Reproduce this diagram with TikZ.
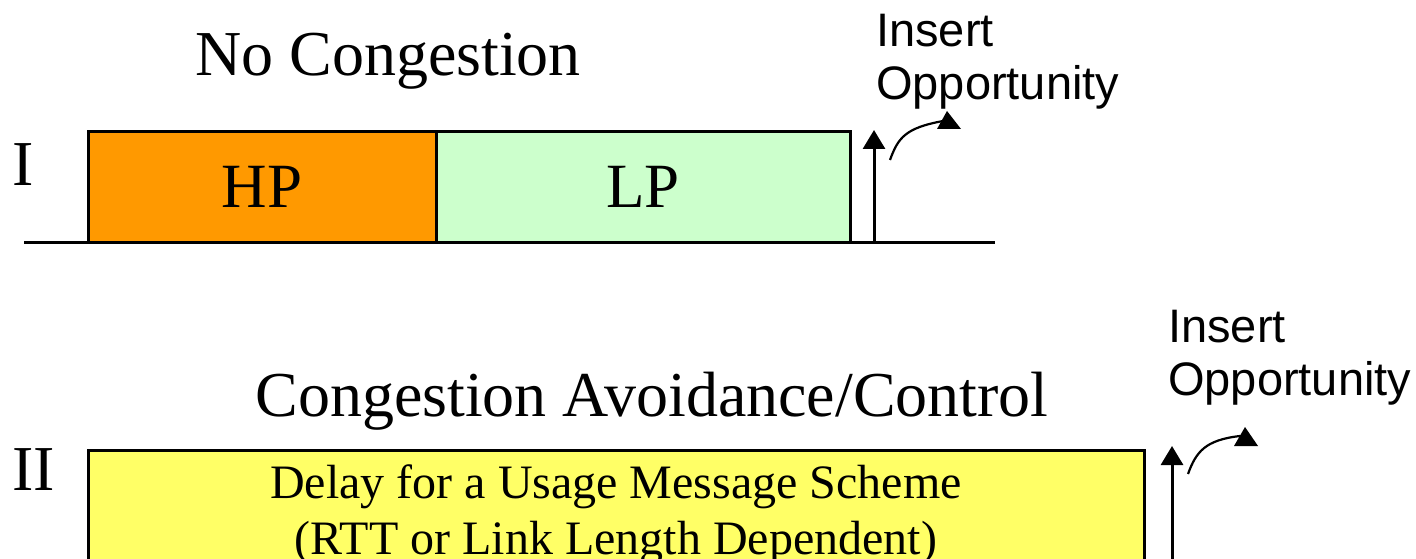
\documentclass[tikz,border=0pt]{standalone}
\usepackage{fontspec}
\setmainfont{Liberation Serif}
\newfontfamily\arialf{Liberation Sans}
\usetikzlibrary{arrows.meta}
\definecolor{hpcol}{HTML}{FF9900}
\definecolor{lpcol}{HTML}{CCFFCC}
\definecolor{ycol}{HTML}{FFFF66}
\begin{document}
\begin{tikzpicture}[x=1pt,y=-1pt,
  box/.style={draw=black, line width=3pt, inner sep=0pt, outer sep=0pt, anchor=north west},
  big/.style={font=\fontsize{64}{72}\selectfont, inner sep=0pt, anchor=base},
  boxtext/.style={font=\fontsize{63}{70}\selectfont},
  sans/.style={font=\arialf\fontsize{47}{53}\selectfont, align=left, inner sep=0pt, anchor=north west},
  baseln/.style={line width=3pt},
  uparrow/.style={-{Triangle[width=22pt,length=19pt]}, line width=3pt},
  curvarrow/.style={line width=2.2pt},
  tipfill/.style={fill=black},
]
\useasboundingbox (0,0) rectangle (1416,559);
\clip (0,0) rectangle (1416,559);

% ---------- Part I ----------
\node[big] (t1) at (388,76) {No Congestion};
\node[big, anchor=base west] (r1) at (12,185) {I};
\node[box, fill=hpcol, minimum width=348pt, minimum height=110pt, boxtext] (hp) at (88,132) {HP};
\node[box, fill=lpcol, minimum width=414pt, minimum height=110pt, boxtext] (lp) at (436,132) {LP};
\coordinate (l0) at (24,242);
\coordinate (l1) at (995,242);
\draw[baseln] (l0) -- (hp.south west);
\draw[baseln] (lp.south east) -- (l1);
\coordinate (a1s) at (874,242);
\coordinate (a1e) at (874,130);
\draw[uparrow] (a1s) -- (a1e);
\coordinate (c1s) at (890,160);
\coordinate (c1e) at (943,121);
\draw[curvarrow] (c1s) .. controls (898,138) and (905,128) .. (c1e);
\fill[tipfill] (937,129) -- (947,111) -- (961,129) -- cycle;
\node[sans] (ins1) at (876,14) {Insert\\Opportunity};

% ---------- Part II ----------
\node[big] (t2) at (652,416) {Congestion Avoidance/Control};
\node[big, anchor=base west] (r2) at (12,490) {II};
\node[box, fill=ycol, minimum width=1056pt, minimum height=200pt] (delay) at (88,450) {};
\node[font=\fontsize{48}{56}\selectfont, align=center, inner sep=0pt, anchor=north] (dtxt) at (616,464)
  {Delay for a Usage Message Scheme\\(RTT or Link Length Dependent)};
\coordinate (a2s) at (1172,565);
\coordinate (a2e) at (1172,446);
\draw[uparrow] (a2s) -- (a2e);
\coordinate (c2s) at (1188,474);
\coordinate (c2e) at (1240,436);
\draw[curvarrow] (c2s) .. controls (1196,452) and (1205,440) .. (c2e);
\fill[tipfill] (1234,446) -- (1245,427) -- (1258,446) -- cycle;
\node[sans] (ins2) at (1168,310) {Insert\\Opportunity};
\end{tikzpicture}
\end{document}
